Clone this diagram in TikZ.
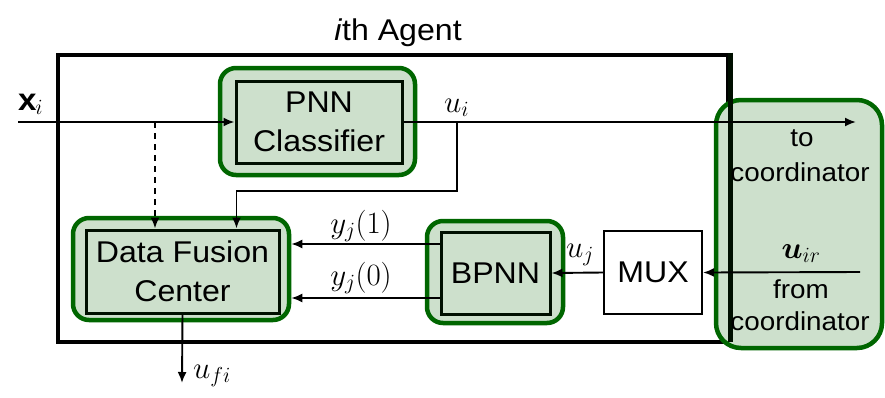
\RequirePackage{fix-cm}
\documentclass[tikz,border=0pt]{standalone}
\usepackage{bm}
\usepackage{fontspec}
\setmainfont{Liberation Sans}[FakeStretch=1.07]
\usetikzlibrary{arrows.meta,calc}
\definecolor{gfill}{RGB}{205,224,204}
\definecolor{gdraw}{RGB}{0,102,0}
\begin{document}
\begin{tikzpicture}[x=1pt,y=1pt,
  bigtxt/.style={font=\fontsize{30}{39}\selectfont, align=center},
  smalltxt/.style={font=\fontsize{26}{32}\selectfont, inner sep=0pt},
  gbox/.style={draw=gdraw, fill=gfill, line width=4.5pt, rounded corners=16pt, inner sep=0pt},
  ibox/.style={draw=black!85!gdraw, line width=3pt, inner sep=0pt, bigtxt},
  lab/.style={font=\fontsize{31}{36}\selectfont, inner sep=0pt},
  conn/.style={line width=1.9pt, -{Latex[length=11pt,width=9pt]}},
]
\useasboundingbox (0,0) rectangle (885,-397);
% agent frame
\node[draw, line width=4.8pt, minimum width=670pt, minimum height=287pt, inner sep=0pt] (agent) at (393,-198.5) {};
\node[bigtxt, anchor=base, inner sep=0pt] (title) at (398,-40) {\textit{i}th Agent};
% green frames
\node[gbox, minimum width=195pt, minimum height=107pt] (pnng) at (317.5,-121.5) {};
\node[gbox, minimum width=216pt, minimum height=102pt] (dfcg) at (181,-269) {};
\node[gbox, minimum width=136pt, minimum height=102pt] (bpnng) at (495,-272) {};
\node[gbox, rounded corners=25pt, minimum width=166pt, minimum height=248pt] (coordg) at (799,-224) {};
\draw[line width=4.8pt, black!85!gdraw] (agent.north east) -- ($(agent.south east)+(0,2.4)$);
% inner boxes
\node[ibox, minimum width=166pt, minimum height=82pt] (pnn) at (319,-122) {PNN\\Classifier};
\node[ibox, minimum width=193pt, minimum height=83pt] (dfc) at (182.5,-271.5) {Data Fusion\\Center};
\node[ibox, minimum width=109pt, minimum height=82pt] (bpnn) at (495.5,-273) {BPNN};
\node[draw, fill=white, line width=2.2pt, inner sep=0pt, bigtxt, minimum width=98pt, minimum height=83pt] (mux) at (653,-272.5) {MUX};
% texts in coordinator box
\node[smalltxt, anchor=base] (to) at (802,-146) {to};
\node[smalltxt, anchor=base] (coordA) at (800,-181) {coordinator};
\node[lab, anchor=base] (uir) at (801,-258) {$\bm{u}_{ir}$};
\node[smalltxt, anchor=base] (from) at (801,-298) {from};
\node[smalltxt, anchor=base] (coordB) at (800,-330) {coordinator};
% coordinates
\coordinate (xin) at (18,-122);
\coordinate (toc) at (856,-122);
\coordinate (split) at (155,-122);
\coordinate (branch) at (457,-122);
\coordinate (uirin) at (860,-272);
\coordinate (ufi) at (182,-383);
% connectors
\draw[conn] (xin) -- (pnn.west);
\draw[conn] (pnn.east) -- (toc);
\draw[conn, dash pattern=on 6pt off 5pt] (split) -- (split |- dfc.north);
\draw[conn] (branch) -- ++(0,-69) -| ($(dfc.north)+(54,0)$);
\draw[conn] (uirin) -- (mux.east);
\draw[conn] (mux.west) -- (bpnn.east);
\draw[conn] (bpnn.west |- 0,-244) -- (dfcg.east |- 0,-244);
\draw[conn] (bpnn.west |- 0,-298) -- (dfcg.east |- 0,-298);
\draw[conn] (dfc.south) -- (ufi);
% labels
\node[lab, anchor=base west] (xil) at (18,-110) {$\mathbf{x}_i$};
\node[lab, anchor=base west] (uil) at (444,-112) {$u_i$};
\node[lab, anchor=base west] (ujl) at (566,-257) {$u_j$};
\node[lab, anchor=base] (y1l) at (361,-233) {$y_j(1)$};
\node[lab, anchor=base] (y0l) at (361,-285) {$y_j(0)$};
\node[lab, anchor=base west] (ufil) at (193,-378) {$u_{fi}$};
\end{tikzpicture}
\end{document}
